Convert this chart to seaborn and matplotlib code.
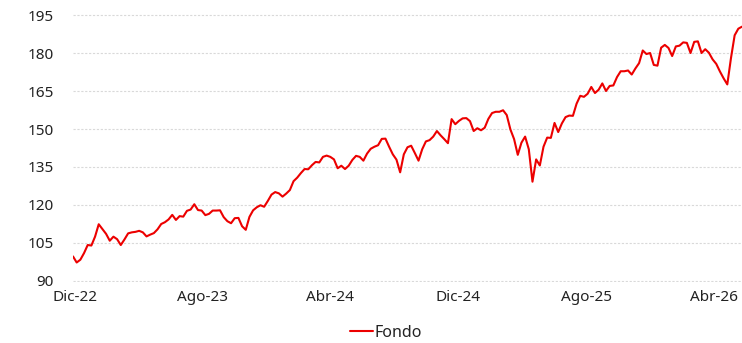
import matplotlib
matplotlib.use("Agg")
import matplotlib.pyplot as plt
import pandas as pd
import seaborn as sns

# Weekly fund values (base 100)
fondo = [
    99.7, 97.3, 98.4, 101.0, 104.2, 104.0, 107.5, 112.4, 110.5, 108.6,
    105.9, 107.5, 106.5, 104.2, 106.4, 108.8, 109.2, 109.4, 109.8, 109.2,
    107.6, 108.3, 108.9, 110.4, 112.5, 113.2, 114.3, 116.1, 114.1, 115.6,
    115.4, 117.7, 118.2, 120.3, 118.0, 117.8, 116.0, 116.5, 117.8, 117.8,
    117.9, 115.2, 113.6, 112.8, 114.8, 114.9, 111.6, 110.2, 115.3, 117.9,
    119.1, 119.9, 119.3, 121.6, 124.1, 125.1, 124.6, 123.3, 124.5, 125.9,
    129.4, 130.8, 132.6, 134.2, 134.1, 135.7, 137.0, 136.8, 139.0, 139.5,
    139.0, 138.0, 134.5, 135.5, 134.2, 135.5, 137.8, 139.4, 139.0, 137.5,
    140.3, 142.2, 143.0, 143.6, 146.1, 146.2, 143.0, 140.0, 137.9, 132.9,
    140.0, 142.8, 143.4, 140.5, 137.5, 142.0, 145.1, 145.6, 147.0, 149.2,
    147.5, 146.0, 144.4, 153.9, 151.9, 153.2, 154.2, 154.3, 153.1, 149.2,
    150.3, 149.5, 150.5, 154.0, 156.3, 156.8, 156.8, 157.4, 155.5, 149.8,
    146.0, 139.8, 144.6, 147.0, 142.0, 129.2, 138.0, 135.6, 143.0, 146.6,
    146.5, 152.4, 148.8, 152.2, 154.7, 155.3, 155.2, 160.0, 163.1, 162.7,
    163.9, 166.6, 164.2, 165.5, 168.0, 165.0, 167.0, 167.2, 170.5, 172.8,
    172.8, 173.1, 171.5, 173.9, 176.0, 181.0, 179.6, 180.0, 175.3, 175.0,
    182.1, 183.2, 182.0, 178.8, 182.6, 182.9, 184.2, 184.0, 180.0, 184.4,
    184.6, 180.0, 181.5, 180.1, 177.5, 175.7, 172.7, 170.0, 167.6, 178.0,
    187.0, 189.6, 190.4,
]
fechas = pd.date_range("2022-11-28", periods=len(fondo), freq="7D")

tick_fechas = pd.to_datetime(
    ["2022-12-01", "2023-08-01", "2024-04-01", "2024-12-01", "2025-08-01", "2026-04-01"]
)
tick_etiquetas = ["Dic-22", "Ago-23", "Abr-24", "Dic-24", "Ago-25", "Abr-26"]
y_ticks = [90, 105, 120, 135, 150, 165, 180, 195]

df = pd.DataFrame({"Fecha": fechas, "Fondo": fondo})

sns.set_theme(style="white")
plt.rcParams["font.family"] = ["Noto Sans", "DejaVu Sans"]

ROJO = "#EC0000"

fig = plt.figure(figsize=(7.42, 3.43), dpi=100)
ax = fig.add_axes([73 / 742, 61 / 343, 1 - 73 / 742, 268 / 343])

sns.lineplot(data=df, x="Fecha", y="Fondo", ax=ax, color=ROJO,
             linewidth=1.5, label="Fondo", legend=False)

ax.set_xlim(fechas[0], fechas[-1])
ax.set_ylim(89.6, 195.4)
ax.set_yticks(y_ticks)
ax.set_xticks(tick_fechas)
ax.set_xticklabels(tick_etiquetas)
ax.set_xlabel("")
ax.set_ylabel("")

ax.grid(axis="y", color="#d9d9d9", linestyle=(0, (2, 1.5)), linewidth=0.8)
ax.grid(axis="x", visible=False)
for s in ax.spines.values():
    s.set_visible(False)

ax.tick_params(axis="y", length=0, pad=14, labelsize=11, labelcolor="#222222")
ax.tick_params(axis="x", length=0, pad=6, labelsize=11, labelcolor="#222222")

handles, labels = ax.get_legend_handles_labels()
fig.legend(handles, labels, loc="center", bbox_to_anchor=(386 / 742, 1 - 333 / 343),
           frameon=False, fontsize=11.5, handlelength=1.4, handletextpad=0.1,
           labelcolor="#222222")

fig.savefig("out.png", dpi=100)
